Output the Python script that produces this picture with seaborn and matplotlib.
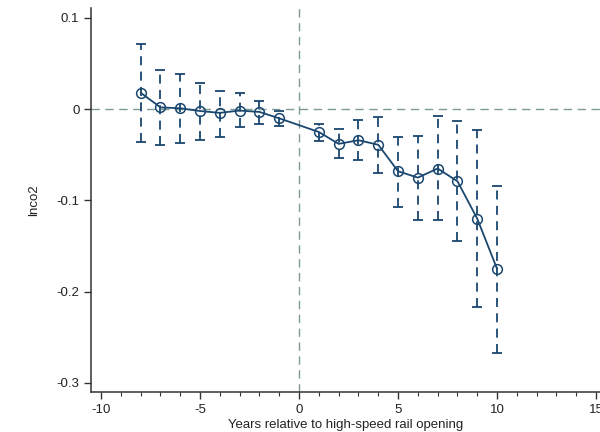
import numpy as np
import pandas as pd
import matplotlib
matplotlib.use('Agg')
import matplotlib.pyplot as plt
import seaborn as sns
from matplotlib.ticker import MultipleLocator

# event-study estimates
years = [-8, -7, -6, -5, -4, -3, -2, -1, 1, 2, 3, 4, 5, 6, 7, 8, 9, 10]
coef = [0.018, 0.002, 0.001, -0.002, -0.004, -0.0015, -0.003, -0.010,
        -0.025, -0.038, -0.034, -0.039, -0.068, -0.075, -0.065, -0.079, -0.120, -0.175]
ci_hi = [0.072, 0.043, 0.039, 0.029, 0.020, 0.0175, 0.009, -0.002,
         -0.016, -0.022, -0.012, -0.008, -0.030, -0.029, -0.007, -0.013, -0.023, -0.084]
ci_lo = [-0.036, -0.039, -0.037, -0.034, -0.030, -0.020, -0.016, -0.018,
         -0.035, -0.053, -0.056, -0.070, -0.107, -0.121, -0.121, -0.145, -0.217, -0.267]

df = pd.DataFrame({'year': years, 'coef': coef, 'hi': ci_hi, 'lo': ci_lo})

navy = '#1a476f'
refcol = '#7d9a96'

sns.set_style('white')
plt.rcParams['font.family'] = ['Liberation Sans', 'DejaVu Sans']

fig = plt.figure(figsize=(6, 4.32), dpi=100)
ax = fig.add_axes([0.152, 0.0926, 0.848, 0.889])

# reference lines
ax.axhline(0, color=refcol, lw=1, ls=(0, (6, 4)), zorder=1)
ax.axvline(0, color=refcol, lw=1, ls=(0, (6, 4)), zorder=1)

# confidence intervals: dashed bars with caps
err = [df['coef'] - df['lo'], df['hi'] - df['coef']]
eb = ax.errorbar(df['year'], df['coef'], yerr=err, fmt='none', ecolor=navy,
                 elinewidth=1.3, capsize=3.5, capthick=1.3, zorder=2)
for lc in eb[2]:
    lc.set_linestyle((0, (5, 3.5)))

sns.lineplot(data=df, x='year', y='coef', ax=ax, color=navy, lw=1.3,
             marker='o', markersize=7, markerfacecolor='none',
             markeredgecolor=navy, markeredgewidth=1.1, zorder=3)

ax.set_xlim(-10.5, 15.2)
ax.set_ylim(-0.31, 0.111)
ax.set_xticks([-10, -5, 0, 5, 10, 15])
ax.set_xticklabels(['-10', '-5', '0', '5', '10', '15'])
ax.xaxis.set_minor_locator(MultipleLocator(1))
ax.set_yticks([-0.3, -0.2, -0.1, 0, 0.1])
ax.set_yticklabels(['-0.3', '-0.2', '-0.1', '0', '0.1'])

for s in ['top', 'right']:
    ax.spines[s].set_visible(False)
for s in ['left', 'bottom']:
    ax.spines[s].set_color('#333333')
    ax.spines[s].set_linewidth(1.1)

ax.tick_params(axis='both', which='major', direction='out', length=5, width=1,
               color='#333333', labelsize=9.5, labelcolor='#222222', bottom=True, left=True)
ax.tick_params(axis='x', which='minor', direction='out', length=3, width=0.8,
               color='#333333', bottom=True)

ax.set_xlabel('Years relative to high-speed rail opening', fontsize=9.5, color='#222222', labelpad=2)
ax.set_ylabel('lnco2', fontsize=9.5, color='#222222', labelpad=12)

fig.savefig('out.png', dpi=100)
